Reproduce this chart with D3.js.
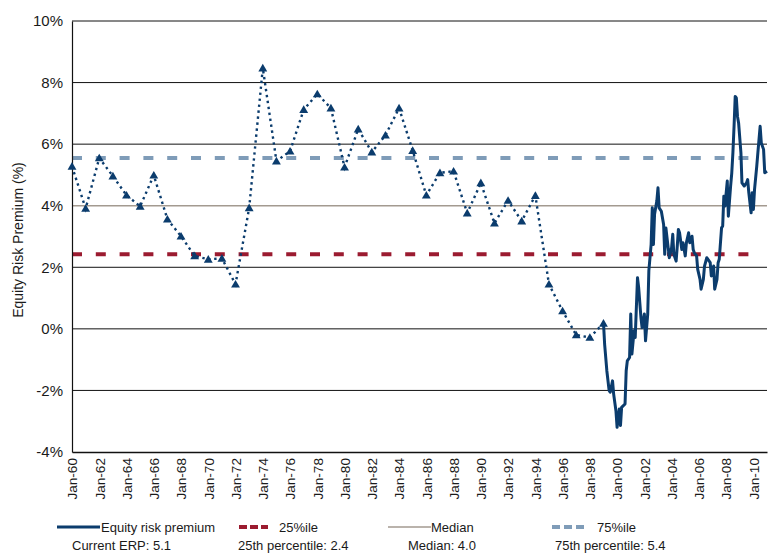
<!DOCTYPE html>
<html>
<head>
<meta charset="utf-8">
<script src="https://cdn.jsdelivr.net/npm/d3@7"></script>
<style>
  body { margin: 0; background: #fff; }
  svg text { font-family: "Liberation Sans", Arial, sans-serif; fill: #1a1a1a; }
</style>
</head>
<body>
<svg id="chart" width="770" height="554"></svg>
<script>
// --- data ---
// annual estimates (dotted line with markers), Jan of each year
const annualYears = [1960, 1961, 1962, 1963, 1964, 1965, 1966, 1967, 1968, 1969,
                     1970, 1971, 1972, 1973, 1974, 1975, 1976, 1977, 1978, 1979,
                     1980, 1981, 1982, 1983, 1984, 1985, 1986, 1987, 1988, 1989,
                     1990, 1991, 1992, 1993, 1994, 1995, 1996, 1997, 1998, 1999];
const annualValues = [5.28, 3.91, 5.55, 4.96, 4.34, 3.98, 4.99, 3.56, 3.01, 2.37,
                      2.26, 2.29, 1.45, 3.93, 8.47, 5.45, 5.77, 7.12, 7.63, 7.17,
                      5.25, 6.49, 5.74, 6.29, 7.17, 5.79, 4.34, 5.07, 5.12, 3.76,
                      4.74, 3.43, 4.17, 3.50, 4.33, 1.45, 0.58, -0.20, -0.28, 0.18];

// monthly series (solid line) from 1999
const monthlyDates = [
  "1999-01","1999-02","1999-04","1999-06","1999-07","1999-09","1999-10","1999-12",
  "2000-01","2000-03","2000-04","2000-05","2000-08","2000-09","2000-10","2000-12",
  "2001-01","2001-02","2001-04","2001-05","2001-07","2001-08","2001-10","2001-11",
  "2002-01","2002-02","2002-04","2002-05","2002-07","2002-08","2002-09","2002-10","2002-12",
  "2003-01","2003-02","2003-04","2003-06","2003-07","2003-08","2003-10","2003-11",
  "2004-01","2004-02","2004-03","2004-05","2004-06","2004-07","2004-08","2004-10","2004-11",
  "2005-01","2005-02","2005-04","2005-05","2005-07","2005-08","2005-09","2005-11","2005-12",
  "2006-02","2006-03","2006-05","2006-06","2006-08","2006-09","2006-11","2006-12",
  "2007-02","2007-03","2007-05","2007-06","2007-07","2007-09","2007-10","2007-11","2007-12",
  "2008-02","2008-03","2008-05","2008-06","2008-07","2008-08","2008-09","2008-10","2008-11","2008-12",
  "2009-02","2009-03","2009-05","2009-06","2009-07","2009-08","2009-09","2009-11","2009-12",
  "2010-01","2010-02","2010-04","2010-05","2010-07","2010-08","2010-10","2010-11",
  "2011-01"];
const monthlyValues = [
  0.20, -0.50, -1.36, -2.00, -2.06, -1.69, -2.12, -2.66,
  -3.20, -2.60, -3.14, -2.55, -2.44, -1.36, -1.04, -0.93,
  0.48, -0.82, -0.06, -0.28, 1.66, 1.34, 0.37, 0.04,
  0.48, -0.39, 0.48, 1.88, 2.74, 3.93, 2.74, 3.72, 4.15,
  4.58, 3.93, 3.82, 3.39, 2.42, 3.28, 2.64, 2.31,
  2.64, 3.07, 2.42, 2.20, 2.69, 3.23, 3.12, 2.58, 2.80,
  2.37, 2.80, 3.12, 2.80, 3.01, 2.58, 2.47, 2.37, 1.93,
  1.61, 1.29, 1.61, 2.04, 2.31, 2.26, 2.15, 1.72,
  2.04, 1.29, 1.61, 2.15, 2.26, 3.28, 3.34, 4.31, 3.99,
  4.80, 3.66, 4.64, 5.07, 5.72, 6.58, 7.55, 7.50, 6.90, 6.69,
  5.72, 4.74, 4.64, 4.69, 4.74, 4.85, 4.42, 3.77, 4.42,
  3.88, 4.53, 5.28, 5.72, 6.58, 6.04, 5.83, 5.07,
  5.12];

const medianLevel = 4.0;
const p25Level = 2.42;
const p75Level = 5.55;
const refLineEnd = "2010-07";   // where the percentile lines stop

const yTicks = [-4, -2, 0, 2, 4, 6, 8, 10];
const xTickYears = [1960, 1962, 1964, 1966, 1968, 1970, 1972, 1974, 1976, 1978, 1980, 1982, 1984,
                    1986, 1988, 1990, 1992, 1994, 1996, 1998, 2000, 2002, 2004, 2006, 2008, 2010];
const legendLabels = ["Equity risk premium", "25%ile", "Median", "75%ile"];
const statLabels = ["Current ERP: 5.1", "25th percentile: 2.4", "Median: 4.0", "75th percentile: 5.4"];

// --- colours ---
const NAVY = "#0b3c6d";
const RED = "#9b1b30";
const GREY = "#a39a90";
const STEEL = "#7f9cb8";

const svg = d3.select("#chart");
const margin = { left: 72, right: 3, top: 21, bottom: 102 };
const W = 770, H = 554;

const parseMonth = d3.timeParse("%Y-%m");
const x = d3.scaleTime()
  .domain([new Date(1960, 0, 1), new Date(2011, 0, 1)])
  .range([margin.left, W - margin.right]);
const y = d3.scaleLinear().domain([-4, 10]).range([H - margin.bottom, margin.top]);

// gridlines
svg.append("g").selectAll("line").data(yTicks.filter(d => d !== -4 && d !== 4)).join("line")
  .attr("x1", x.range()[0]).attr("x2", x.range()[1])
  .attr("y1", d => y(d)).attr("y2", d => y(d))
  .attr("stroke", "#111").attr("stroke-width", 1);

// median
svg.append("line")
  .attr("x1", x.range()[0]).attr("x2", x.range()[1])
  .attr("y1", y(medianLevel)).attr("y2", y(medianLevel))
  .attr("stroke", GREY).attr("stroke-width", 1.5);

// percentile lines
[[p25Level, RED], [p75Level, STEEL]].forEach(([v, c]) => {
  svg.append("line")
    .attr("x1", x.range()[0]).attr("x2", x(parseMonth(refLineEnd)))
    .attr("y1", y(v)).attr("y2", y(v))
    .attr("stroke", c).attr("stroke-width", 4)
    .attr("stroke-dasharray", "10,13.8");
});

// y axis
const yAxis = svg.append("g").attr("transform", `translate(${margin.left},0)`)
  .call(d3.axisLeft(y).tickValues(yTicks).tickSize(0).tickPadding(9).tickFormat(d => d + "%"));
yAxis.select(".domain").attr("stroke", "#111").attr("stroke-width", 1.2);
yAxis.selectAll("text").attr("font-size", 15).attr("font-family", null);

// x axis
const xAxis = svg.append("g").attr("transform", `translate(0,${y(-4)})`)
  .call(d3.axisBottom(x).tickValues(xTickYears.map(yr => new Date(yr, 0, 1)))
    .tickSize(0).tickFormat(d3.timeFormat("%b-%y")));
xAxis.select(".domain").attr("stroke", "#111").attr("stroke-width", 1.5);
xAxis.selectAll("text")
  .attr("font-size", 13.6).attr("font-family", null)
  .attr("text-anchor", "end")
  .attr("transform", "rotate(-90)")
  .attr("x", -6).attr("y", 0).attr("dy", "0.35em");

// y title
svg.append("text")
  .attr("transform", "translate(23,240) rotate(-90)")
  .attr("text-anchor", "middle")
  .attr("font-size", 14)
  .text("Equity Risk Premium (%)");

// annual dotted series
const annual = annualYears.map((yr, i) => ({ date: new Date(yr, 0, 1), value: annualValues[i] }));
const line = d3.line().x(d => x(d.date)).y(d => y(d.value));
svg.append("path").datum(annual)
  .attr("fill", "none").attr("stroke", NAVY).attr("stroke-width", 2.4)
  .attr("stroke-dasharray", "2.4,3.6")
  .attr("d", line);
svg.append("g").selectAll("path").data(annual).join("path")
  .attr("transform", d => `translate(${x(d.date)},${y(d.value) + 0.8})`)
  .attr("d", d3.symbol(d3.symbolTriangle, 34))
  .attr("fill", NAVY);

// monthly solid series
const monthly = monthlyDates.map((m, i) => ({ date: parseMonth(m), value: monthlyValues[i] }));
svg.append("path").datum(monthly)
  .attr("fill", "none").attr("stroke", NAVY).attr("stroke-width", 3)
  .attr("stroke-linejoin", "round")
  .attr("d", line);

// legend
const legY = 527;
const leg = svg.append("g");
leg.append("line").attr("x1", 57).attr("x2", 100).attr("y1", legY).attr("y2", legY)
  .attr("stroke", NAVY).attr("stroke-width", 3);
leg.append("line").attr("x1", 239).attr("x2", 268).attr("y1", legY).attr("y2", legY)
  .attr("stroke", RED).attr("stroke-width", 4).attr("stroke-dasharray", "8,3");
leg.append("line").attr("x1", 388).attr("x2", 431).attr("y1", legY).attr("y2", legY)
  .attr("stroke", GREY).attr("stroke-width", 1.5);
leg.append("line").attr("x1", 552).attr("x2", 587).attr("y1", legY).attr("y2", legY)
  .attr("stroke", STEEL).attr("stroke-width", 4).attr("stroke-dasharray", "8,4");

const legX = [101, 279, 431, 597];
leg.selectAll("text.lab").data(legendLabels).join("text").attr("class", "lab")
  .attr("x", (d, i) => legX[i]).attr("y", legY + 5)
  .attr("font-size", 13).text(d => d);

const statX = [72, 238, 408, 555];
leg.selectAll("text.stat").data(statLabels).join("text").attr("class", "stat")
  .attr("x", (d, i) => statX[i]).attr("y", 550)
  .attr("font-size", 13).text(d => d);
</script>
</body>
</html>
